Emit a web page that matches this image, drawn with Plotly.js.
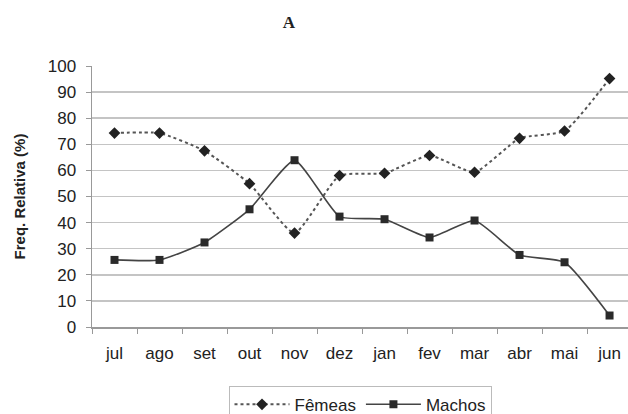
<!DOCTYPE html>
<html>
<head>
<meta charset="utf-8">
<script src="https://cdn.plot.ly/plotly-3.0.1.min.js"></script>
<style>html,body{margin:0;padding:0;background:#fff;}#chart{width:628px;height:414px;}</style>
</head>
<body>
<div id="chart"></div>
<script>
const months = ["jul","ago","set","out","nov","dez","jan","fev","mar","abr","mai","jun"];
const femeas = [74.3, 74.3, 67.5, 54.9, 36.0, 58.0, 58.9, 65.7, 59.3, 72.3, 75.1, 95.2];
const machos = [25.7, 25.7, 32.4, 45.1, 63.9, 42.3, 41.3, 34.3, 40.8, 27.6, 24.8, 4.4];
const yTicks = [0,10,20,30,40,50,60,70,80,90,100];

const traces = [
  {x: months, y: femeas, name: "Fêmeas", type: "scatter", mode: "lines+markers",
   line: {color: "#555555", width: 2, dash: "dot", shape: "spline", smoothing: 0.5},
   marker: {symbol: "diamond", size: 9, color: "#222222"}},
  {x: months, y: machos, name: "Machos", type: "scatter", mode: "lines+markers",
   line: {color: "#444444", width: 1.6, shape: "spline", smoothing: 0.5},
   marker: {symbol: "square", size: 8, color: "#2a2a2a"}}
];

const layout = {
  width: 628, height: 414,
  margin: {l: 92, r: 0, t: 66, b: 87, autoexpand: false},
  paper_bgcolor: "#ffffff", plot_bgcolor: "#ffffff",
  font: {family: "'Liberation Sans', Arial, sans-serif", color: "#222222"},
  title: {text: "<b>A</b>", font: {family: "'Liberation Serif', 'Times New Roman', serif", size: 17, color: "#222"},
          x: 0.46, xref: "container", xanchor: "center", y: 0.947, yref: "container", yanchor: "middle"},
  xaxis: {type: "category", range: [-0.5, 11.41], tickson: "boundaries", ticks: "outside", ticklen: 5,
          tickcolor: "#999", showgrid: false, showline: true, linecolor: "#999", linewidth: 1.5,
          tickfont: {size: 17, color: "#222"}, ticklabelstandoff: 10, zeroline: false, fixedrange: true},
  yaxis: {range: [0, 100], tickvals: yTicks, ticks: "outside", ticklen: 5, tickcolor: "#999",
          showgrid: true, gridcolor: "#c4c4c4", gridwidth: 1.5, showline: true, linecolor: "#999", linewidth: 1.5,
          zeroline: false, tickfont: {size: 17, color: "#222"}, ticklabelstandoff: 6,
          title: {text: "<b>Freq. Relativa (%)</b>", font: {size: 15, color: "#222"}, standoff: 18}},
  showlegend: true,
  legend: {orientation: "h", x: 0.5, xanchor: "center", y: -0.225, yanchor: "top",
           bordercolor: "#bbbbbb", borderwidth: 1, font: {size: 17, color: "#222"},
           itemwidth: 55, tracegroupgap: 0}
};

Plotly.newPlot("chart", traces, layout, {displayModeBar: false, staticPlot: true});
</script>
</body>
</html>
